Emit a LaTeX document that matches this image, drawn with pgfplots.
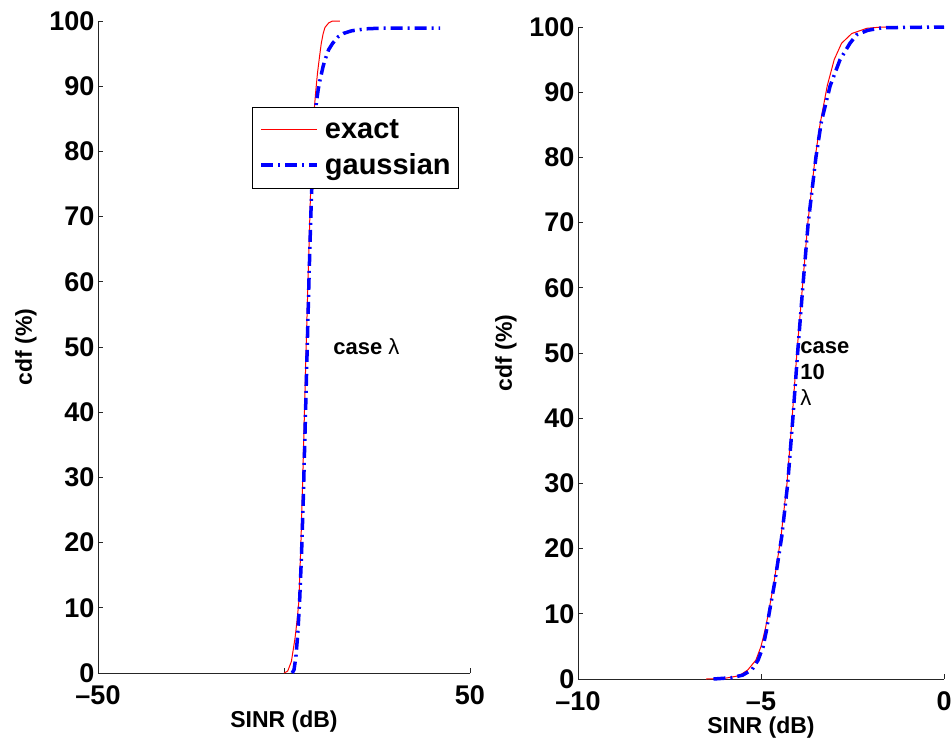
\documentclass[border=0pt]{standalone}
\usepackage{fontspec}
\setmainfont{Liberation Sans}
\usepackage{pgfplots}
\pgfplotsset{compat=1.18}
\definecolor{ExactRed}{HTML}{FF0000}
\definecolor{GaussBlue}{HTML}{0000FF}
\pgfplotsset{
  cdf axis/.style={
    scale only axis,axis lines=left,height=652pt,
    axis line style={-,line width=0.9pt,draw=black!85},
    tick align=inside,major tick length=5pt,
    tick style={line width=0.9pt,draw=black!85},
    ymin=0,ymax=100,ytick={0,10,...,100},
    /pgf/number format/assume math mode=true,
    tick label style={font=\fontsize{27}{30}\selectfont\bfseries},
    xticklabel style={yshift=-9pt},
    label style={font=\fontsize{23}{26}\selectfont\bfseries},
    xlabel={SINR (dB)},ylabel={cdf (\%)},
    xlabel shift={-1pt},ylabel shift={6pt},
    clip=false,
  },
}
\tikzset{
  exact/.style={ExactRed,line width=1pt,line join=round},
  gauss/.style={GaussBlue,line width=3.5pt,
    dash pattern=on 12pt off 5pt on 2pt off 5pt},
  note/.style={font=\fontsize{22}{26}\selectfont\bfseries,inner sep=0pt},
}
\begin{document}
\begin{tikzpicture}
\useasboundingbox (0pt,0pt) rectangle (952pt,-745pt);
% left: case lambda
\begin{axis}[cdf axis,at={(98pt,-673pt)},anchor=south west,width=372pt,
  xmin=-50,xmax=50,xtick={-50,0,50},xticklabels={–50,,50},
  legend style={at={(0.414,0.868)},anchor=north west,draw=black,fill=white,
    line width=0.8pt,font=\fontsize{29}{32}\selectfont\bfseries,
    legend cell align=left,inner xsep=7pt,inner ysep=11pt,row sep=12pt,
    nodes={inner sep=1pt},
    /tikz/every odd column/.style={column sep=5pt}},
  legend image code/.code={\draw[#1] (0pt,0pt) -- (56pt,0pt);}]
  \addplot[exact] coordinates {
    (0,0) (1,0.3) (2,1.8) (3,5.5) (3.5,8) (4,11) (4.5,19) (5,29) (5.5,40)
    (6,51) (6.5,61) (7,71) (7.5,80) (8,85.5) (8.5,89) (9,92) (9.5,94.3)
    (10,96.5) (10.5,98) (11,99) (12,99.7) (13,100) (15,100)};
  \addlegendentry{exact}
  \addplot[gauss] coordinates {
    (2.2,0) (2.7,0.5) (3.2,2.5) (3.7,6) (4.2,11) (4.7,18) (5.2,27) (5.7,38)
    (6.2,49) (6.7,60) (7.2,70) (7.7,78) (8.2,84) (8.7,87.5) (9.2,89.5)
    (9.7,91) (10.5,93) (11,94) (12,95.6) (13.1,96.6) (14.6,97.6) (16,98.1)
    (18.2,98.5) (22,98.8) (26,98.9) (42,98.9)};
  \addlegendentry{gaussian}
  \node[note,anchor=west] at (axis cs:13.2,50) {case {\mdseries λ}};
\end{axis}
% right: case 10 lambda
\begin{axis}[cdf axis,at={(578pt,-679pt)},anchor=south west,width=366pt,
  xmin=-10,xmax=0,xtick={-10,-5,0},xticklabels={–10,–5,0}]
  \addplot[exact] coordinates {
    (-6.5,0) (-6,0.1) (-5.6,0.5) (-5.36,1.4) (-5.14,2.9) (-5,5) (-4.89,7.5)
    (-4.8,10) (-4.64,15) (-4.45,22) (-4.29,30) (-4.15,40) (-4.02,50)
    (-3.87,60) (-3.72,70) (-3.52,80) (-3.39,85) (-3.19,91) (-3,95)
    (-2.8,97.5) (-2.52,99) (-2.11,99.8) (-1.7,100) (-1.29,100)};
  \addplot[gauss] coordinates {
    (-6.3,0) (-5.8,0.2) (-5.5,0.6) (-5.25,1.4) (-5.08,2.9) (-4.94,5)
    (-4.85,7.5) (-4.78,10) (-4.62,15) (-4.43,22) (-4.27,30) (-4.13,40)
    (-4,50) (-3.86,60) (-3.71,70) (-3.5,80) (-3.35,85.5) (-3.11,91)
    (-2.84,95) (-2.57,97.5) (-2.39,98.8) (-2.08,99.5) (-1.67,99.9) (0,100)};
  \node[note,anchor=west,align=left] at (axis cs:-3.93,46.9)
    {case\\10\\{\mdseries λ}};
\end{axis}
\end{tikzpicture}
\end{document}
